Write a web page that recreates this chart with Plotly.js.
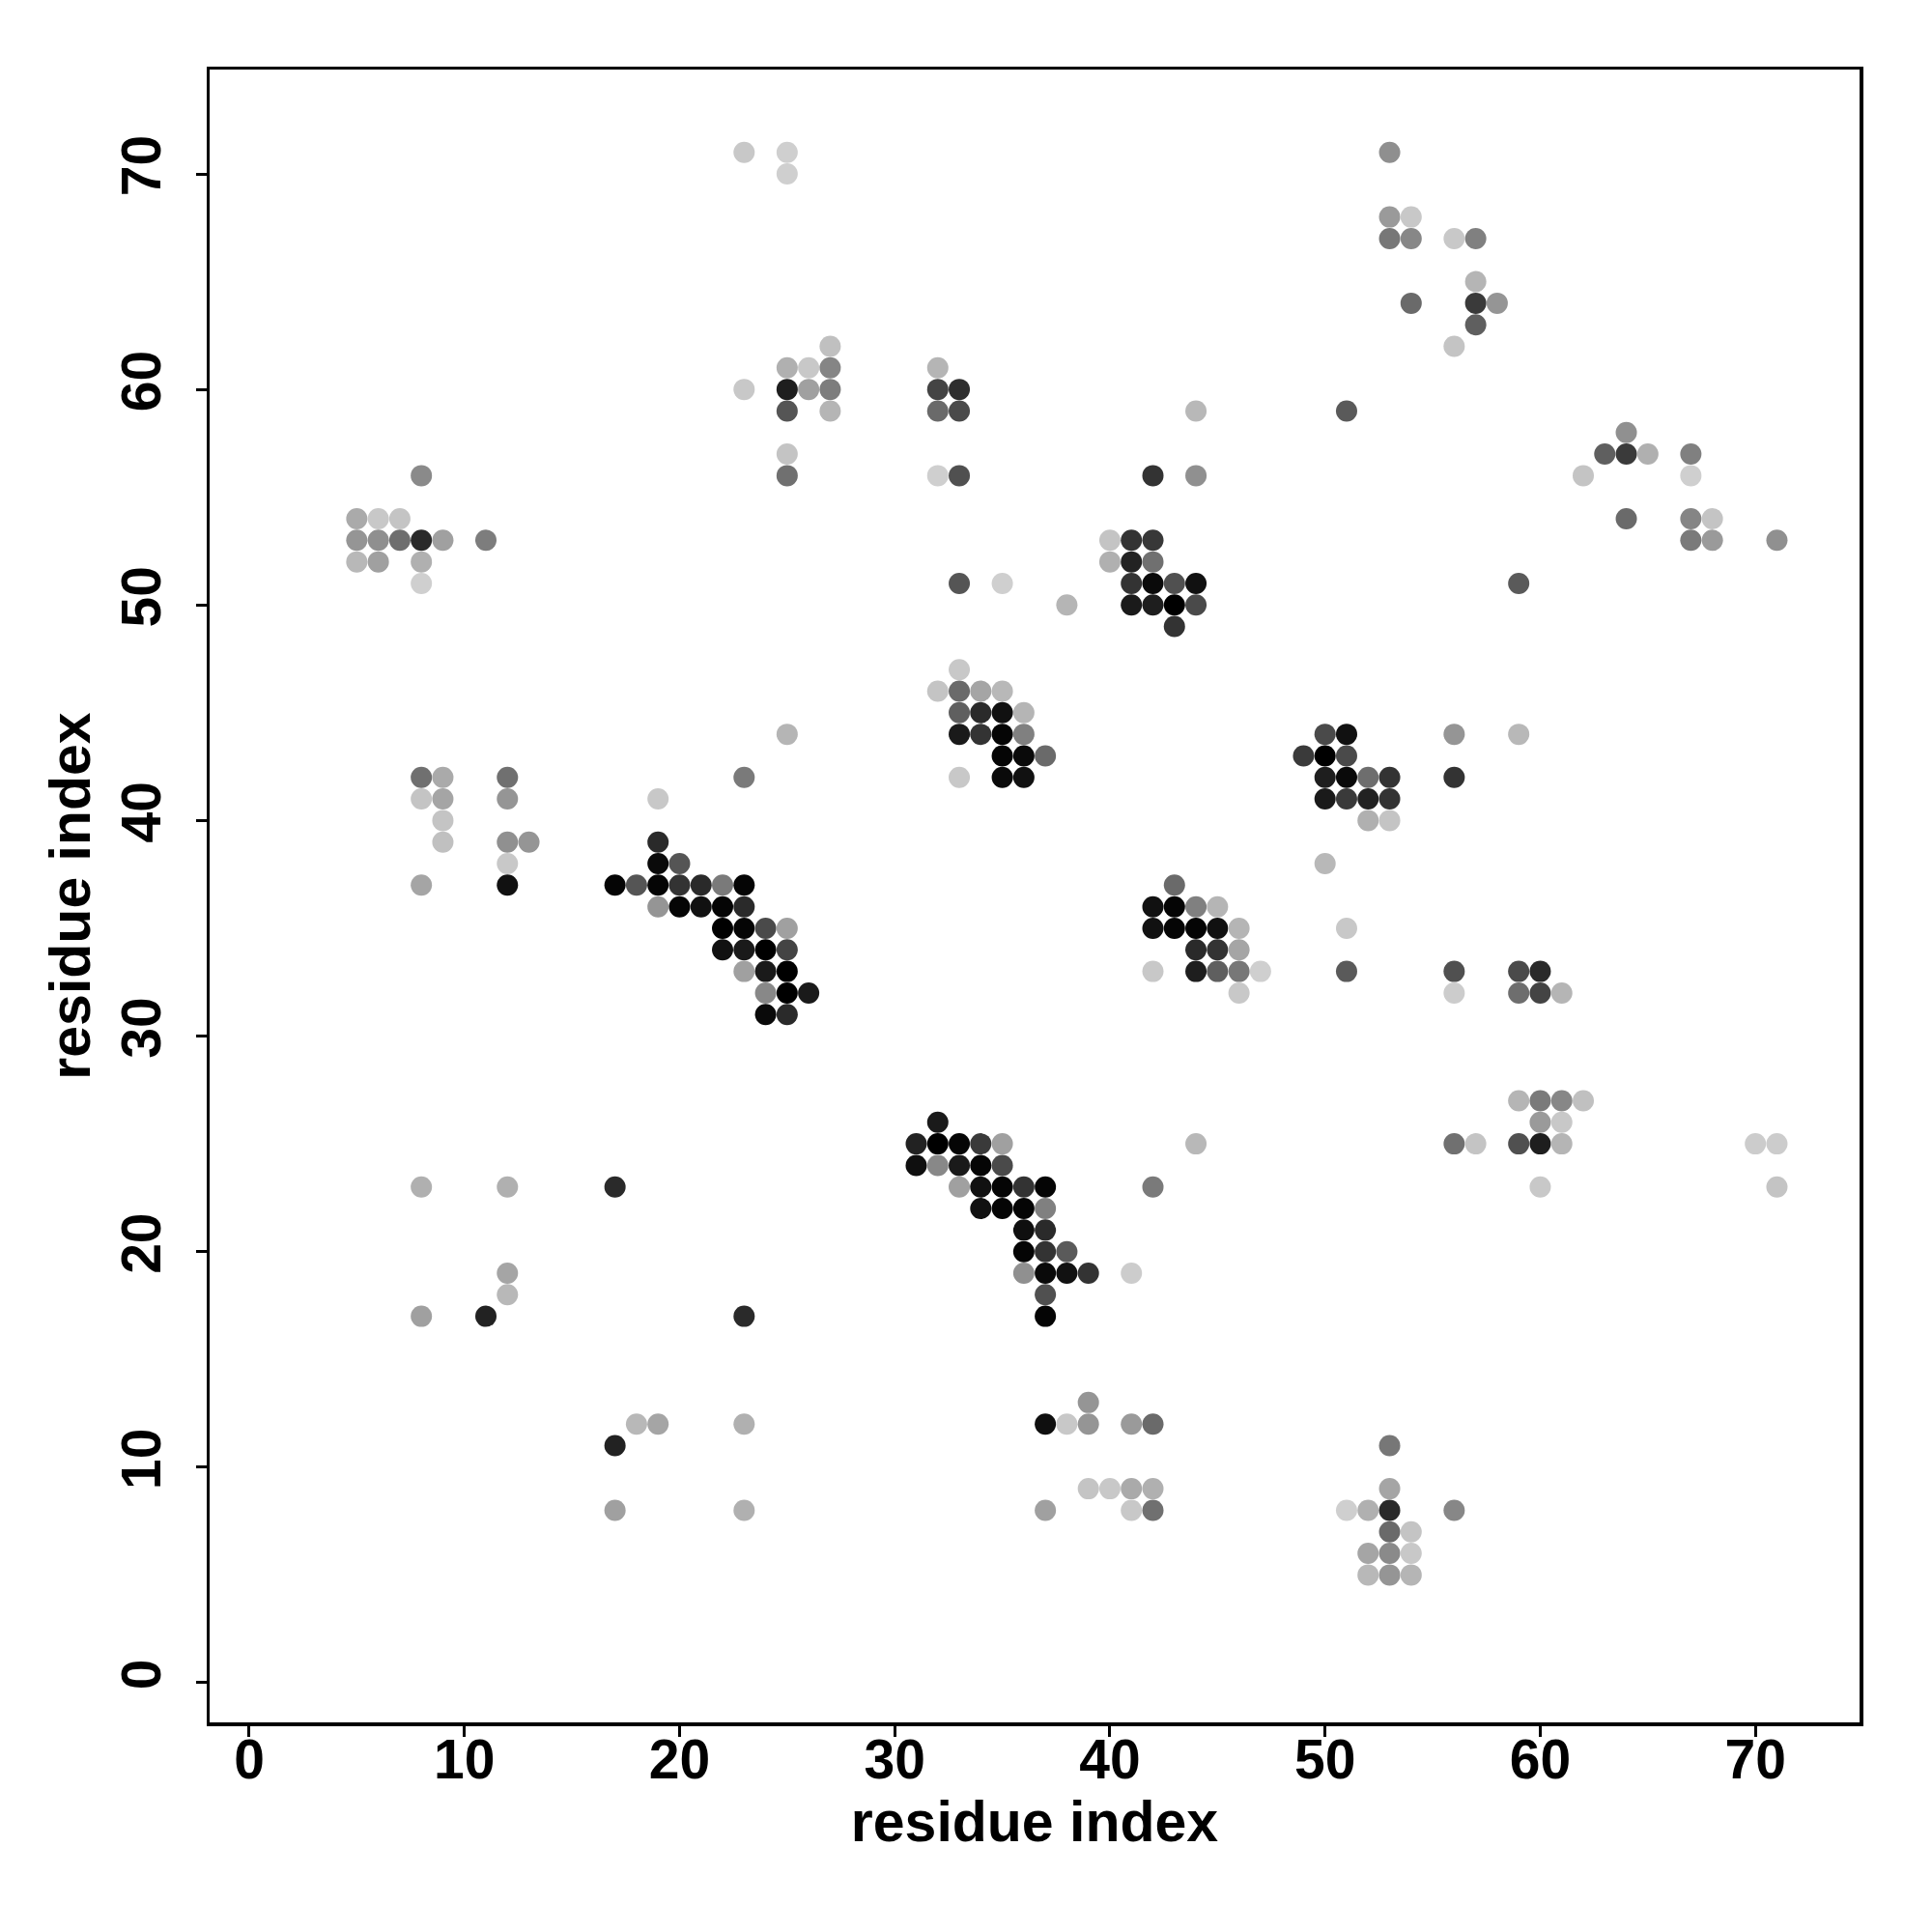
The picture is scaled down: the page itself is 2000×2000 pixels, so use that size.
<!DOCTYPE html>
<html>
<head>
<meta charset="utf-8">
<script src="https://cdn.plot.ly/plotly-3.0.1.min.js"></script>
<style>html,body{margin:0;padding:0;background:#fff}#chart{width:2000px;height:2000px}</style>
</head>
<body>
<div id="chart"></div>
<script>
// residue i (x), residue j (y), grey level of the dot (0 = black, 255 = white)
const xs = [
  23,23,8,5,6,7,5,6,7,8,9,11,5,6,8,8,
  25,25,27,25,26,27,25,26,27,25,27,25,25,32,32,33,32,33,32,33,44,42,44,40,41,42,40,41,42,33,35,41,42,43,44,38,41,42,43,44,43,
  53,53,54,53,54,56,57,57,54,57,58,57,56,51,64,63,64,65,67,62,67,64,67,68,67,68,71,59,
  8,9,12,23,8,9,12,19,9,9,12,13,19,12,19,20,8,12,17,18,19,20,21,22,23,19,20,21,22,23,22,23,24,25,22,23,24,25,23,24,25,24,25,26,24,25,
  33,32,33,34,35,33,34,35,36,25,33,34,35,36,35,36,37,33,35,36,49,43,42,43,44,45,42,43,44,45,46,44,45,46,42,44,45,46,47,46,32,31,32,33,34,35,44,31,32,33,34,35,
  33,34,35,36,37,42,34,35,36,37,36,37,36,37,38,36,37,38,39,41,37,37,39,37,38,39,41,42,39,40,41,42,37,41,42,
  8,12,17,12,12,8,11,23,18,19,23,17,17,23,
  60,71,53,53,51,52,53,56,53,54,52,53,54,52,53,54,
  50,51,56,59,50,51,50,51,52,53,56,50,51,52,53,52,53,50,51,51,56,59,60,56,59,60,61,59,60,61,62,60,61,56,57,59,60,61,70,71
];
const ys = [
  71,60,56,54,54,54,53,53,53,53,53,53,52,52,52,51,
  71,70,62,61,61,61,60,60,60,59,59,57,56,61,60,60,59,59,56,56,59,56,56,53,53,53,52,52,52,51,51,51,51,51,51,50,50,50,50,50,49,
  71,68,68,67,67,67,67,65,64,64,64,63,62,59,58,57,57,57,57,56,56,54,54,54,53,53,53,51,
  42,42,42,42,41,41,41,41,40,39,39,39,39,38,38,38,37,37,37,37,37,37,37,37,37,36,36,36,36,36,35,35,35,35,34,34,34,34,33,33,33,32,32,32,31,31,
  47,46,46,46,46,45,45,45,45,44,44,44,44,44,43,43,43,42,42,42,43,37,36,36,36,36,35,35,35,35,35,34,34,34,33,33,33,33,33,32,26,25,25,25,25,25,25,24,24,24,24,24,
  23,23,23,23,23,23,22,22,22,22,21,21,20,20,20,19,19,19,19,19,18,17,13,12,12,12,12,12,9,9,9,9,8,8,8,
  23,23,23,19,18,17,17,17,12,12,12,11,8,8,
  23,23,11,9,8,8,8,8,7,7,6,6,6,5,5,5,
  44,44,44,44,43,43,42,42,42,42,42,41,41,41,41,40,40,38,35,33,33,33,33,32,32,32,32,27,27,27,27,26,26,25,25,25,25,25,25,25
];
const grey = [
  200,200,138,170,200,196,149,143,110,42,160,125,184,160,176,207,
  207,207,192,176,200,133,30,160,125,85,181,196,112,181,68,46,106,74,207,80,184,51,144,196,51,56,176,34,112,85,207,51,10,80,17,181,26,30,0,74,51,
  143,154,200,119,135,200,128,181,106,58,149,95,196,90,144,95,58,176,128,196,207,106,133,196,122,154,144,90,
  112,170,112,122,196,165,149,200,196,192,144,149,42,200,10,85,165,17,5,85,5,51,42,122,5,149,5,17,5,42,0,5,74,160,17,26,0,68,160,26,0,136,0,26,10,42,
  200,196,106,165,184,95,42,17,181,181,26,51,5,128,5,10,106,200,10,17,58,106,17,5,128,181,17,5,5,17,181,42,51,165,200,30,95,119,207,200,26,34,0,5,58,160,184,15,136,26,5,74,
  160,17,5,51,5,122,17,5,5,128,15,42,5,51,90,144,10,17,51,204,80,5,149,15,200,149,154,106,196,200,170,176,160,200,112,
  176,176,42,165,184,160,34,42,184,165,176,34,160,176,
  200,196,119,165,207,176,42,135,106,196,165,138,200,184,149,181,
  74,17,149,184,0,74,30,10,110,51,51,26,58,34,51,176,196,184,200,90,80,74,42,204,110,68,181,181,122,135,192,154,200,112,196,80,30,181,204,204
];
const tickValues = [0, 10, 20, 30, 40, 50, 60, 70];
const axisTitle = "residue index";

const fontFam = '"Liberation Sans", Arial, Helvetica, sans-serif';

const trace = {
  type: 'scatter',
  mode: 'markers',
  x: xs,
  y: ys,
  marker: {
    size: 22,
    color: grey,
    cmin: 0,
    cmax: 255,
    colorscale: [[0, 'rgb(0,0,0)'], [1, 'rgb(255,255,255)']],
    showscale: false,
    line: {width: 0}
  },
  hoverinfo: 'x+y'
};

const axisCommon = {
  range: [-1.84, 74.84],
  tickvals: tickValues,
  ticktext: tickValues.map(String),
  ticks: 'outside',
  ticklen: 11,
  tickwidth: 3,
  tickcolor: '#000',
  showline: true,
  linecolor: '#000',
  linewidth: 3.5,
  mirror: true,
  showgrid: false,
  zeroline: false,
  tickfont: {family: fontFam, size: 57, color: '#000', weight: 'bold'}
};

const layout = {
  width: 2000,
  height: 2000,
  paper_bgcolor: '#fff',
  plot_bgcolor: '#fff',
  showlegend: false,
  margin: {l: 217, r: 75, t: 72, b: 217},
  xaxis: Object.assign({}, axisCommon, {
    ticklabelstandoff: -25,
    title: {text: axisTitle, font: {family: fontFam, size: 59, color: '#000', weight: 'bold'}, standoff: 0}
  }),
  yaxis: Object.assign({}, axisCommon, {
    tickangle: -90,
    ticklabelstandoff: 14,
    title: {text: axisTitle, font: {family: fontFam, size: 59, color: '#000', weight: 'bold'}, standoff: 2}
  })
};

Plotly.newPlot('chart', [trace], layout, {displayModeBar: false, staticPlot: true});
</script>
</body>
</html>
